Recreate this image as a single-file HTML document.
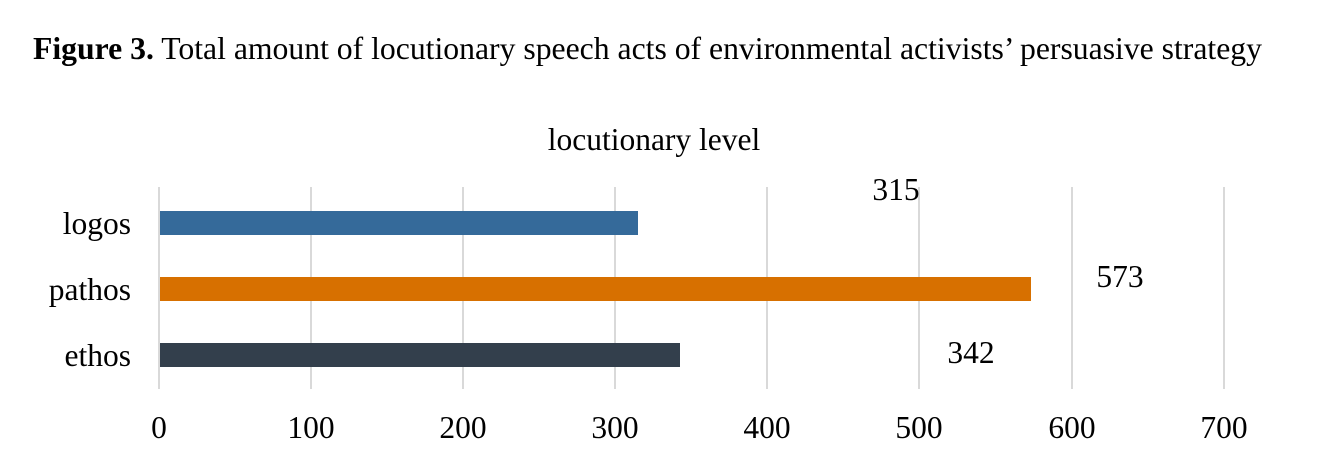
<!DOCTYPE html>
<html><head><meta charset="utf-8"><style>
body{margin:0;background:#fff;}
svg{display:block;font-family:"Liberation Serif",serif;}
</style></head><body>
<svg width="1333" height="468" xmlns="http://www.w3.org/2000/svg">
<rect width="1333" height="468" fill="#fff"/>
<text x="33" y="59" font-size="31.7" fill="#000" textLength="1229" lengthAdjust="spacingAndGlyphs"><tspan font-weight="bold">Figure 3.</tspan> Total amount of locutionary speech acts of environmental activists’ persuasive strategy</text>
<text x="654" y="150" font-size="31.5" text-anchor="middle" fill="#000">locutionary level</text>
<g stroke="#d9d9d9" stroke-width="2">
<line x1="159" y1="187" x2="159" y2="389"/>
<line x1="311" y1="187" x2="311" y2="389"/>
<line x1="463" y1="187" x2="463" y2="389"/>
<line x1="615" y1="187" x2="615" y2="389"/>
<line x1="767" y1="187" x2="767" y2="389"/>
<line x1="919" y1="187" x2="919" y2="389"/>
<line x1="1072" y1="187" x2="1072" y2="389"/>
<line x1="1224" y1="187" x2="1224" y2="389"/>
</g>
<rect x="160" y="211" width="478" height="24" fill="#356a9a"/>
<rect x="160" y="277" width="871" height="24" fill="#d77000"/>
<rect x="160" y="343" width="520" height="24" fill="#333f4c"/>
<g font-size="31.5" fill="#000" text-anchor="end">
<text x="131" y="234">logos</text>
<text x="131" y="300">pathos</text>
<text x="131" y="366">ethos</text>
</g>
<g font-size="31.5" fill="#000" text-anchor="middle">
<text x="896" y="200">315</text>
<text x="1120" y="287">573</text>
<text x="971" y="363">342</text>
<text x="159" y="438">0</text>
<text x="311" y="438">100</text>
<text x="463" y="438">200</text>
<text x="615" y="438">300</text>
<text x="767" y="438">400</text>
<text x="919" y="438">500</text>
<text x="1072" y="438">600</text>
<text x="1224" y="438">700</text>
</g>
</svg>
</body></html>
